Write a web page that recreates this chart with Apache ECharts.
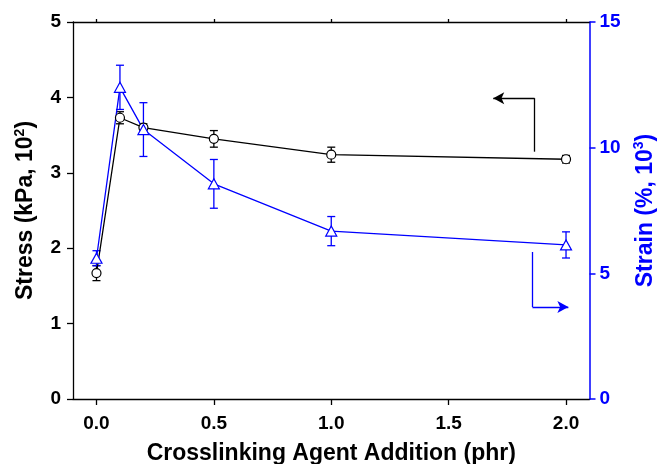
<!DOCTYPE html>
<html>
<head>
<meta charset="utf-8">
<script src="https://cdn.jsdelivr.net/npm/echarts@6/dist/echarts.min.js"></script>
<style>
  html, body { margin: 0; padding: 0; background: #fff; }
  #chart { width: 659px; height: 464px; }
</style>
</head>
<body>
<div id="chart"></div>
<script>
// Crosslinking agent content (phr)
const addition = [0.0, 0.1, 0.2, 0.5, 1.0, 2.0];
// Tensile stress (kPa, x10^2) with standard deviation
const stress = [1.67, 3.73, 3.60, 3.45, 3.24, 3.18];
const stressErr = [0.10, 0.08, 0.05, 0.11, 0.10, 0.05];
// Strain at break (%, x10^3) with standard deviation
const strain = [5.60, 12.40, 10.72, 8.56, 6.68, 6.13];
const strainErr = [0.30, 0.88, 1.07, 0.97, 0.58, 0.52];
// Axis ticks
const xTicks = [0.0, 0.5, 1.0, 1.5, 2.0];

const BLUE = '#0000ff';
const FONT = '"Liberation Sans", Arial, sans-serif';

const pairs = (ys) => addition.map((x, i) => [x, ys[i]]);
const bars = (ys, es) => addition.map((x, i) => [x, ys[i] - es[i], ys[i] + es[i]]);

function errorBar(color) {
  return function (params, api) {
    const x = api.value(0);
    const lo = api.coord([x, api.value(1)]);
    const hi = api.coord([x, api.value(2)]);
    const half = 4;
    const style = { stroke: color, lineWidth: 1.3 };
    return {
      type: 'group',
      children: [
        { type: 'line', shape: { x1: lo[0], y1: lo[1], x2: hi[0], y2: hi[1] }, style },
        { type: 'line', shape: { x1: lo[0] - half, y1: lo[1], x2: lo[0] + half, y2: lo[1] }, style },
        { type: 'line', shape: { x1: hi[0] - half, y1: hi[1], x2: hi[0] + half, y2: hi[1] }, style }
      ]
    };
  };
}

// Pointer arrows telling which axis each curve belongs to
function pointer(x, yFrom, yTo, xTip) {
  return [
    [{ coord: [x, yFrom], symbol: 'none' }, { coord: [x, yTo], symbol: 'none' }],
    [{ coord: [x, yTo], symbol: 'none' }, { coord: [xTip, yTo], symbol: 'arrow' }]
  ];
}

const tickLabel = { fontFamily: FONT, fontWeight: 'bold', fontSize: 19 };
const titleStyle = { fontFamily: FONT, fontWeight: 'bold', fontSize: 23 };
const supStyle = { fontFamily: FONT, fontWeight: 'bold', fontSize: 14, verticalAlign: 'top', padding: [0, 0, 12, 0] };

const chart = echarts.init(document.getElementById('chart'), null, { renderer: 'canvas' });
chart.setOption({
  animation: false,
  backgroundColor: '#fff',
  grid: { left: 73, right: 69.5, top: 22, bottom: 65, containLabel: false, outerBoundsMode: 'none' },
  xAxis: [{
    type: 'value', min: -0.1, max: 2.1,
    name: 'Crosslinking Agent Addition (phr)', nameLocation: 'middle', nameGap: 43,
    nameTextStyle: Object.assign({ color: '#000' }, titleStyle),
    axisLine: { onZero: false, lineStyle: { color: '#000', width: 1.3 } },
    axisTick: { show: true, length: 6, customValues: xTicks, lineStyle: { color: '#000', width: 1.3 } },
    axisLabel: Object.assign({ color: '#000', margin: 15, customValues: xTicks, formatter: v => v.toFixed(1) }, tickLabel),
    splitLine: { show: false }
  }, {
    type: 'value', position: 'top', min: -0.1, max: 2.1,
    axisLine: { show: true, onZero: false, lineStyle: { color: '#000', width: 1.3 } },
    axisTick: { show: true, length: 3, customValues: xTicks, lineStyle: { color: '#000', width: 1.3 } },
    axisLabel: { show: false },
    splitLine: { show: false }
  }],
  yAxis: [{
    type: 'value', min: 0, max: 5, interval: 1, position: 'left',
    name: '{t|Stress (kPa, 10}{s|2}{t|)}', nameLocation: 'middle', nameGap: 34, nameRotate: 90,
    nameTextStyle: {
      rich: {
        t: Object.assign({ color: '#000' }, titleStyle),
        s: Object.assign({ color: '#000' }, supStyle)
      }
    },
    axisLine: { show: true, onZero: false, lineStyle: { color: '#000', width: 1.3 } },
    axisTick: { show: true, length: 6, lineStyle: { color: '#000', width: 1.3 } },
    axisLabel: Object.assign({ color: '#000', margin: 12 }, tickLabel),
    splitLine: { show: false }
  }, {
    type: 'value', min: 0, max: 15, interval: 5, position: 'right',
    name: '{t|Strain (%, 10}{s|3}{t|)}', nameLocation: 'middle', nameGap: 43, nameRotate: 90,
    nameTextStyle: {
      rich: {
        t: Object.assign({ color: BLUE }, titleStyle),
        s: Object.assign({ color: BLUE }, supStyle)
      }
    },
    axisLine: { show: true, onZero: false, lineStyle: { color: BLUE, width: 1.5 } },
    axisTick: { show: true, length: 6, lineStyle: { color: BLUE, width: 1.5 } },
    axisLabel: Object.assign({ color: BLUE, margin: 10 }, tickLabel),
    splitLine: { show: false }
  }],
  series: [
    {
      type: 'custom', name: 'stress error', xAxisIndex: 0, yAxisIndex: 0, z: 1,
      renderItem: errorBar('#000'), data: bars(stress, stressErr), silent: true
    },
    {
      type: 'custom', name: 'strain error', xAxisIndex: 0, yAxisIndex: 1, z: 1,
      renderItem: errorBar(BLUE), data: bars(strain, strainErr), silent: true
    },
    {
      type: 'line', name: 'Stress', xAxisIndex: 0, yAxisIndex: 0, z: 3,
      data: pairs(stress),
      symbol: 'circle', symbolSize: 9, showAllSymbol: true,
      lineStyle: { color: '#000', width: 1.3 },
      itemStyle: { color: '#fff', borderColor: '#000', borderWidth: 1.2 },
      markLine: {
        silent: true, symbol: ['none', 'arrow'], symbolSize: [9, 11],
        label: { show: false },
        lineStyle: { color: '#000', width: 1.3, type: 'solid' },
        data: pointer(1.866, 3.28, 3.99, 1.69)
      }
    },
    {
      type: 'line', name: 'Strain', xAxisIndex: 0, yAxisIndex: 1, z: 3,
      data: pairs(strain),
      symbol: 'triangle', symbolSize: [11, 10], showAllSymbol: true,
      lineStyle: { color: BLUE, width: 1.3 },
      itemStyle: { color: '#fff', borderColor: BLUE, borderWidth: 1.2 },
      markLine: {
        silent: true, symbol: ['none', 'arrow'], symbolSize: [9, 11],
        label: { show: false },
        lineStyle: { color: BLUE, width: 1.3, type: 'solid' },
        data: pointer(1.857, 5.85, 3.66, 2.01)
      }
    }
  ]
});
</script>
</body>
</html>
